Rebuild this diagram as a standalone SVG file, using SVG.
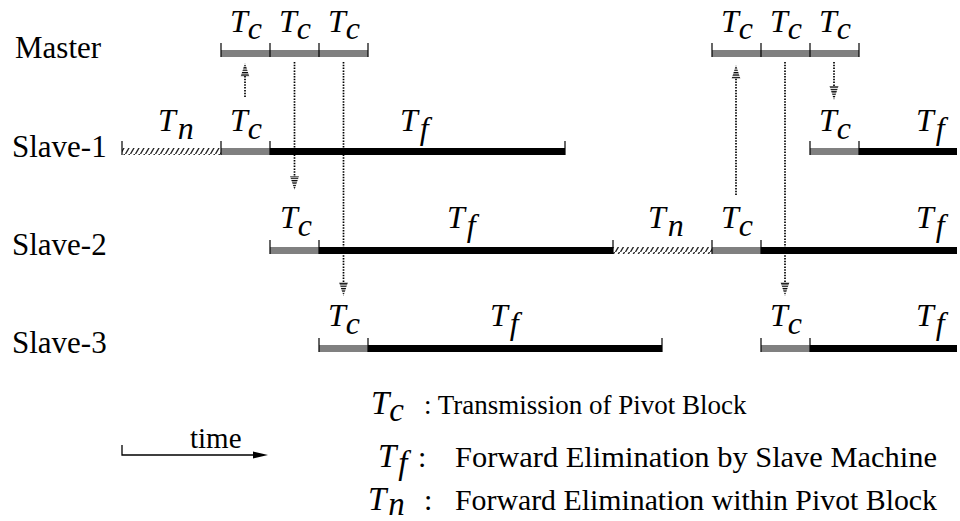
<svg xmlns="http://www.w3.org/2000/svg" width="960" height="521" viewBox="0 0 960 521">
<defs>
<pattern id="hatch" patternUnits="userSpaceOnUse" width="5" height="7" x="0" y="0">
<line x1="0.5" y1="7" x2="4.5" y2="0" stroke="#222" stroke-width="1.3"/>
</pattern>
<pattern id="stripes" patternUnits="userSpaceOnUse" width="10" height="2.4">
<rect x="0" y="0" width="10" height="1.3" fill="#000"/>
</pattern>
</defs>
<style>
text{font-family:'Liberation Serif','Times New Roman',serif;fill:#000}
.lbl{font-size:31px}
.m{font-style:italic;font-size:32px}
.lm{font-style:italic;font-size:33px}
.lt{font-size:30px}
.g{fill:#808080}
.b{fill:#000}
.h{fill:url(#hatch)}
.tk{stroke:#000;stroke-width:1.2}
.dot{stroke:#000;stroke-width:1.7;stroke-dasharray:1.5 1.3;fill:none}
.ah{fill:url(#stripes)}
</style>
<rect width="960" height="521" fill="#fff"/>

<g id="master">
<text class="lbl" x="15" y="58">Master</text>
<rect class="g" x="221" y="50" width="147" height="7"/>
<rect class="g" x="712" y="50" width="147" height="7"/>
<g class="tk">
<line x1="221" y1="43" x2="221" y2="57"/><line x1="270" y1="43" x2="270" y2="57"/><line x1="319" y1="43" x2="319" y2="57"/><line x1="368" y1="43" x2="368" y2="57"/>
<line x1="712" y1="43" x2="712" y2="57"/><line x1="761" y1="43" x2="761" y2="57"/><line x1="810" y1="43" x2="810" y2="57"/><line x1="859" y1="43" x2="859" y2="57"/>
</g>
<text class="m" x="230" y="32">T<tspan dx="3" dy="7">c</tspan></text>
<text class="m" x="279" y="32">T<tspan dx="3" dy="7">c</tspan></text>
<text class="m" x="328" y="32">T<tspan dx="3" dy="7">c</tspan></text>
<text class="m" x="721" y="32">T<tspan dx="3" dy="7">c</tspan></text>
<text class="m" x="770" y="32">T<tspan dx="3" dy="7">c</tspan></text>
<text class="m" x="819" y="32">T<tspan dx="3" dy="7">c</tspan></text>
</g>

<g id="slave1">
<text class="lbl" x="12" y="157">Slave-1</text>
<rect class="h" x="122" y="148" width="99" height="7"/>
<rect class="g" x="221" y="148" width="49" height="7"/>
<rect class="b" x="270" y="148" width="295" height="7"/>
<rect class="g" x="810" y="148" width="49" height="7"/>
<rect class="b" x="859" y="148" width="98" height="7"/>
<g class="tk">
<line x1="122" y1="141" x2="122" y2="155"/><line x1="221" y1="141" x2="221" y2="155"/><line x1="270" y1="141" x2="270" y2="155"/><line x1="565" y1="141" x2="565" y2="155"/>
<line x1="810" y1="141" x2="810" y2="155"/><line x1="859" y1="141" x2="859" y2="155"/>
</g>
<text class="m" x="158" y="131">T<tspan dx="2" dy="8">n</tspan></text>
<text class="m" x="230" y="131">T<tspan dx="3" dy="8">c</tspan></text>
<text class="m" x="400" y="131">T<tspan dx="2" dy="8">f</tspan></text>
<text class="m" x="819" y="131">T<tspan dx="3" dy="8">c</tspan></text>
<text class="m" x="916" y="131">T<tspan dx="2" dy="8">f</tspan></text>
</g>

<g id="slave2">
<text class="lbl" x="12" y="255">Slave-2</text>
<rect class="g" x="270" y="247" width="49" height="7"/>
<rect class="b" x="319" y="247" width="294" height="7"/>
<rect class="h" x="613" y="247" width="99" height="7"/>
<rect class="g" x="712" y="247" width="49" height="7"/>
<rect class="b" x="761" y="247" width="196" height="7"/>
<g class="tk">
<line x1="270" y1="240" x2="270" y2="254"/><line x1="319" y1="240" x2="319" y2="254"/><line x1="613" y1="240" x2="613" y2="254"/><line x1="712" y1="240" x2="712" y2="254"/><line x1="761" y1="240" x2="761" y2="254"/>
</g>
<text class="m" x="280" y="228">T<tspan dx="3" dy="8">c</tspan></text>
<text class="m" x="447" y="228">T<tspan dx="2" dy="8">f</tspan></text>
<text class="m" x="648" y="228">T<tspan dx="2" dy="8">n</tspan></text>
<text class="m" x="721" y="228">T<tspan dx="3" dy="8">c</tspan></text>
<text class="m" x="916" y="228">T<tspan dx="2" dy="8">f</tspan></text>
</g>

<g id="slave3">
<text class="lbl" x="12" y="353">Slave-3</text>
<rect class="g" x="319" y="345" width="49" height="7"/>
<rect class="b" x="368" y="345" width="294" height="7"/>
<rect class="g" x="761" y="345" width="49" height="7"/>
<rect class="b" x="810" y="345" width="147" height="7"/>
<g class="tk">
<line x1="319" y1="338" x2="319" y2="352"/><line x1="368" y1="338" x2="368" y2="352"/><line x1="662" y1="338" x2="662" y2="352"/><line x1="761" y1="338" x2="761" y2="352"/><line x1="810" y1="338" x2="810" y2="352"/>
</g>
<text class="m" x="328" y="326">T<tspan dx="3" dy="8">c</tspan></text>
<text class="m" x="490" y="326">T<tspan dx="2" dy="8">f</tspan></text>
<text class="m" x="770" y="326">T<tspan dx="3" dy="8">c</tspan></text>
<text class="m" x="916" y="326">T<tspan dx="2" dy="8">f</tspan></text>
</g>

<g id="connectors">
<line class="dot" x1="245" y1="97" x2="245" y2="76"/>
<polygon class="ah" points="240.5,77 249.5,77 245,63"/>
<line class="dot" x1="294.5" y1="62" x2="294.5" y2="177"/>
<polygon class="ah" points="290,176 299,176 294.5,190"/>
<line class="dot" x1="343.5" y1="62" x2="343.5" y2="283"/>
<polygon class="ah" points="339,282 348,282 343.5,296"/>
<line class="dot" x1="736" y1="195" x2="736" y2="78"/>
<polygon class="ah" points="731.5,79 740.5,79 736,65"/>
<line class="dot" x1="785" y1="62" x2="785" y2="283"/>
<polygon class="ah" points="780.5,282 789.5,282 785,296"/>
<line class="dot" x1="834" y1="62" x2="834" y2="87"/>
<polygon class="ah" points="829.5,86 838.5,86 834,100"/>
</g>

<g id="time">
<polyline points="122,445 122,455 255,455" fill="none" stroke="#000" stroke-width="1.3"/>
<polygon points="253,451.5 268,455 253,458.5" fill="#000"/>
<text class="lt" x="190" y="448" style="font-size:29px">time</text>
</g>

<g id="legend">
<text class="lm" x="371" y="414">T<tspan dx="3" dy="7">c</tspan></text>
<text class="lt" x="424" y="414" style="font-size:27px">: Transmission of Pivot Block</text>
<text class="lm" x="378" y="467">T<tspan dx="2" dy="7">f</tspan></text>
<text class="lt" x="418" y="467">:</text>
<text class="lt" x="455" y="467" textLength="482" lengthAdjust="spacingAndGlyphs">Forward Elimination by Slave Machine</text>
<text class="lm" x="368" y="510">T<tspan dx="2" dy="5">n</tspan></text>
<text class="lt" x="424" y="510">:</text>
<text class="lt" x="455" y="510" textLength="482" lengthAdjust="spacingAndGlyphs">Forward Elimination within Pivot Block</text>
</g>
</svg>
